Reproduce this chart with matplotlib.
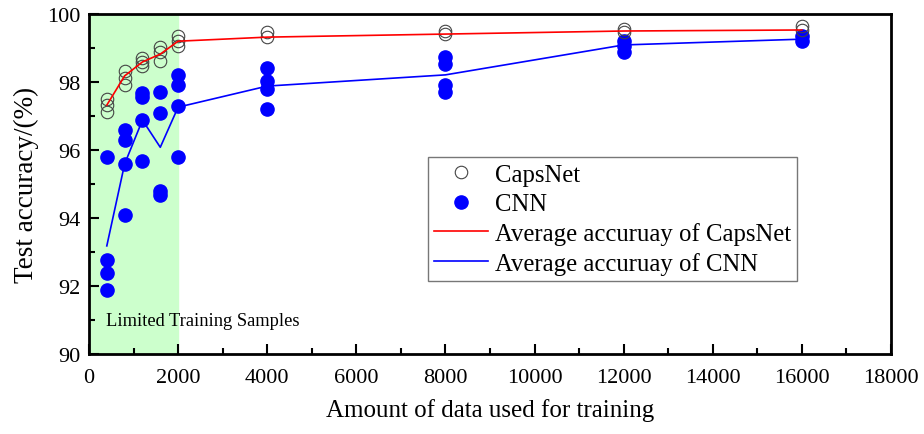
import matplotlib
matplotlib.use("Agg")
from matplotlib import pyplot as plt
from matplotlib.ticker import MultipleLocator

plt.rcParams['font.family'] = ['Liberation Serif', 'DejaVu Serif']

# training set sizes
sizes = [400, 800, 1200, 1600, 2000, 4000, 8000, 12000, 16000]

# individual runs, one list per training size
capsnet_runs = [
    [97.5, 97.32, 97.12],
    [98.32, 98.12, 97.91],
    [98.7, 98.6, 98.48],
    [99.03, 98.88, 98.62],
    [99.35, 99.2, 99.06],
    [99.47, 99.32],
    [99.5, 99.41],
    [99.56, 99.47],
    [99.65, 99.53],
]
cnn_runs = [
    [95.8, 92.77, 92.38, 91.88],
    [96.59, 96.3, 95.59, 94.09],
    [97.68, 97.56, 96.88, 95.67],
    [97.7, 97.09, 94.8, 94.68],
    [98.21, 97.9, 97.3, 95.8],
    [98.41, 98.03, 97.8, 97.2],
    [98.73, 98.53, 97.91, 97.71],
    [99.2, 99.06, 98.88],
    [99.35, 99.2],
]

capsnet_avg = [97.32, 98.18, 98.59, 98.82, 99.2, 99.32, 99.41, 99.5, 99.53]
cnn_avg = [93.18, 95.59, 96.88, 96.08, 97.26, 97.88, 98.21, 99.09, 99.26]

fig = plt.figure(figsize=(9.24, 4.35), dpi=100)
ax = fig.add_axes([0.0963, 0.1839, 0.8680, 0.7816])

ax.axvspan(0, 2000, color='#ccffcc', zorder=0)

cx = [s for s, r in zip(sizes, capsnet_runs) for _ in r]
cy = [v for r in capsnet_runs for v in r]
nx = [s for s, r in zip(sizes, cnn_runs) for _ in r]
ny = [v for r in cnn_runs for v in r]

ax.plot(cx, cy, 'o', mfc='none', mec='#444444', mew=0.8, ms=9, label='CapsNet', zorder=3)
ax.plot(nx, ny, 'o', color='#0000ff', ms=9.5, label='CNN', zorder=2)
ax.plot(sizes, capsnet_avg, '-', color='#ff0000', lw=1.2,
        label='Average accuruay of CapsNet', zorder=4)
ax.plot(sizes, cnn_avg, '-', color='#0000ff', lw=1.2,
        label='Average accuruay of CNN', zorder=4)

ax.text(380, 90.85, 'Limited Training Samples', fontsize=13.3)

ax.set_xlim(0, 18000)
ax.set_ylim(90, 100)
ax.xaxis.set_major_locator(MultipleLocator(2000))
ax.xaxis.set_minor_locator(MultipleLocator(1000))
ax.yaxis.set_major_locator(MultipleLocator(2))
ax.yaxis.set_minor_locator(MultipleLocator(1))
ax.tick_params(which='both', direction='in', labelsize=16, width=1.5)
ax.tick_params(which='major', length=7)
ax.tick_params(which='minor', length=4)
ax.tick_params(axis='x', pad=10)
ax.tick_params(axis='y', pad=6)
for sp in ax.spines.values():
    sp.set_linewidth(2)

ax.set_xlabel('Amount of data used for training', fontsize=18, labelpad=8)
ax.set_ylabel('Test accuracy/(%)', fontsize=19.5, labelpad=6)

leg = ax.legend(loc='upper left', bbox_to_anchor=(0.4225, 0.578), fontsize=17.8,
                frameon=True, fancybox=False, edgecolor='#555555',
                handlelength=2.2, handletextpad=0.25, borderpad=0.25,
                labelspacing=0.28, borderaxespad=0)
leg.get_frame().set_linewidth(1)

fig.savefig('out.png', dpi=100)
